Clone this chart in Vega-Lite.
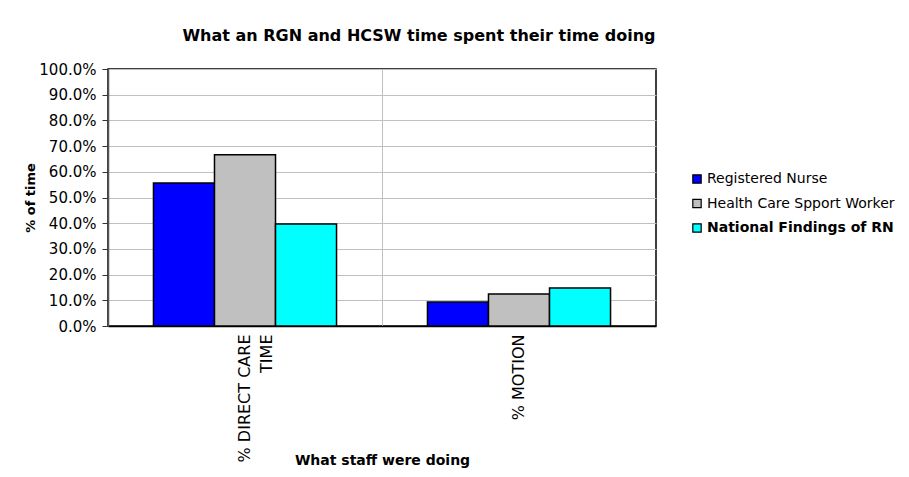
{
  "$schema": "https://vega.github.io/schema/vega-lite/v6.json",
  "width": 548,
  "height": 257,
  "autosize": "none",
  "padding": {"left": 108, "top": 69, "right": 253, "bottom": 151},
  "background": "white",
  "title": {
    "text": "What an RGN and HCSW time spent their time doing",
    "font": "DejaVu Sans",
    "fontSize": 16,
    "fontWeight": "bold",
    "color": "black",
    "anchor": "middle",
    "dx": 37,
    "offset": 18
  },
  "data": {
    "values": [
      {"activity": "% DIRECT CARE TIME", "group": "Registered Nurse", "value": 0.556},
      {"activity": "% DIRECT CARE TIME", "group": "Health Care Spport Worker", "value": 0.666},
      {"activity": "% DIRECT CARE TIME", "group": "National Findings of RN", "value": 0.397},
      {"activity": "% MOTION", "group": "Registered Nurse", "value": 0.093},
      {"activity": "% MOTION", "group": "Health Care Spport Worker", "value": 0.125},
      {"activity": "% MOTION", "group": "National Findings of RN", "value": 0.148}
    ]
  },
  "mark": {"type": "bar", "stroke": "black", "strokeWidth": 1.5},
  "encoding": {
    "x": {
      "field": "activity",
      "type": "nominal",
      "sort": null,
      "scale": {"paddingInner": 0, "paddingOuter": 0},
      "axis": {
        "title": "What staff were doing",
        "titleFont": "DejaVu Sans",
        "titleFontSize": 14,
        "titleFontWeight": "bold",
        "titleColor": "black",
        "titlePadding": -8,
        "labelAngle": -90,
        "labelAlign": "right",
        "labelBaseline": "middle",
        "labelFont": "DejaVu Sans",
        "labelFontSize": 16,
        "labelColor": "black",
        "labelPadding": 8,
        "labelLineHeight": 22,
        "labelLimit": 300,
        "labelExpr": "datum.label == '% DIRECT CARE TIME' ? ['% DIRECT CARE', 'TIME'] : datum.label",
        "ticks": false,
        "domainColor": "black",
        "domainWidth": 1.5,
        "grid": true,
        "bandPosition": 0,
        "gridColor": "#C0C0C0",
        "gridWidth": 1
      }
    },
    "xOffset": {
      "field": "group",
      "type": "nominal",
      "sort": ["Registered Nurse", "Health Care Spport Worker", "National Findings of RN"],
      "scale": {"paddingInner": 0, "paddingOuter": 0.745}
    },
    "y": {
      "field": "value",
      "type": "quantitative",
      "scale": {"domain": [0, 1], "nice": false},
      "axis": {
        "title": "% of time",
        "titleFont": "DejaVu Sans",
        "titleFontSize": 13,
        "titleFontWeight": "bold",
        "titleColor": "black",
        "titlePadding": 1,
        "format": ".1%",
        "values": [0, 0.1, 0.2, 0.3, 0.4, 0.5, 0.6, 0.7, 0.8, 0.9, 1.0],
        "labelFont": "DejaVu Sans",
        "labelFontSize": 15,
        "labelColor": "black",
        "labelPadding": 6,
        "tickColor": "#333333",
        "tickSize": 6,
        "domainColor": "#555555",
        "domainWidth": 1.5,
        "gridColor": "#C0C0C0",
        "gridWidth": 1
      }
    },
    "color": {
      "field": "group",
      "type": "nominal",
      "sort": ["Registered Nurse", "Health Care Spport Worker", "National Findings of RN"],
      "scale": {
        "domain": ["Registered Nurse", "Health Care Spport Worker", "National Findings of RN"],
        "range": ["#0000FF", "#C0C0C0", "#00FFFF"]
      },
      "legend": {
        "title": null,
        "orient": "none",
        "legendX": 582,
        "legendY": 103,
        "symbolType": "square",
        "symbolSize": 70,
        "symbolStrokeColor": "black",
        "symbolStrokeWidth": 1.2,
        "labelFont": "DejaVu Sans",
        "labelFontSize": 14,
        "labelColor": "black",
        "labelOffset": 3,
        "labelLimit": 300,
        "rowPadding": 10.5,
        "encode": {
          "labels": {
            "update": {
              "fontWeight": {"signal": "datum.label === 'National Findings of RN' ? 'bold' : 'normal'"}
            }
          }
        }
      }
    }
  },
  "config": {
    "view": {"stroke": "black", "strokeWidth": 1.5}
  }
}
